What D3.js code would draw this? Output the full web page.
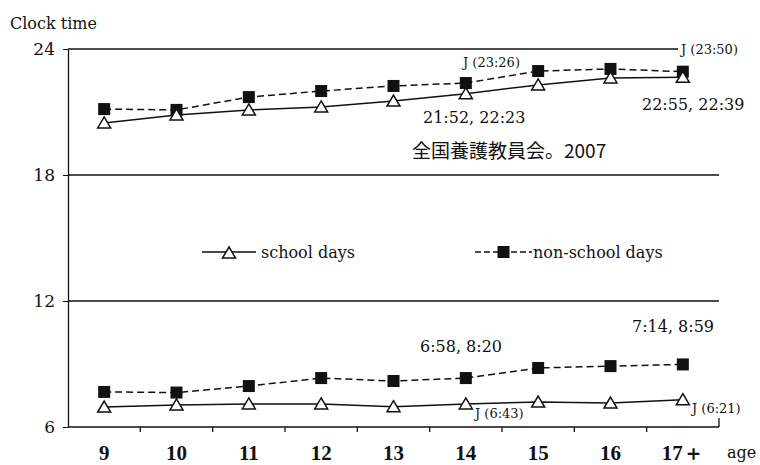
<!DOCTYPE html>
<html>
<head>
<meta charset="utf-8">
<script src="https://cdn.jsdelivr.net/npm/d3@7"></script>
<style>
  body { margin: 0; background: #fff; }
  text { font-family: "DejaVu Serif", "Liberation Serif", serif; fill: #111; }
  .cjk { font-family: "Noto Sans CJK JP", sans-serif; }
</style>
</head>
<body>
<div id="chart"></div>
<script>
// ages on the x axis
const ages = ['9', '10', '11', '12', '13', '14', '15', '16', '17＋'];
const yTicks = [6, 12, 18, 24];

// bedtime (hours, evening)
const bedSchool    = [20.48, 20.86, 21.1, 21.24, 21.52, 21.87, 22.29, 22.62, 22.65];
const bedNonSchool = [21.14, 21.1, 21.71, 22.0, 22.24, 22.38, 22.95, 23.05, 22.92];
// wake-up time (hours, morning)
const wakeSchool    = [6.95, 7.05, 7.1, 7.1, 6.97, 7.1, 7.19, 7.14, 7.3];
const wakeNonSchool = [7.67, 7.64, 7.95, 8.33, 8.19, 8.33, 8.81, 8.9, 8.98];

const width = 760, height = 465;
const margin = { top: 49, right: 41, bottom: 38, left: 68 };

const svg = d3.select('#chart')
  .append('svg')
  .attr('width', width)
  .attr('height', height);

const x = d3.scaleBand()
  .domain(ages)
  .range([margin.left, width - margin.right]);

const y = d3.scaleLinear()
  .domain([6, 24])
  .range([height - margin.bottom, margin.top]);

// horizontal grid lines (24 stops short for the J marker)
svg.selectAll('.grid')
  .data(yTicks.filter(d => d > 6))
  .join('line')
  .attr('class', 'grid')
  .attr('x1', margin.left)
  .attr('x2', d => d === 24 ? 678 : width - margin.right)
  .attr('y1', d => y(d))
  .attr('y2', d => y(d))
  .attr('stroke', '#111')
  .attr('stroke-width', 1.3);

// y axis
const yAxis = svg.append('g')
  .attr('transform', `translate(${margin.left},0)`)
  .call(d3.axisLeft(y).tickValues(yTicks).tickSize(5).tickSizeOuter(0));
yAxis.select('.domain').attr('stroke', '#111').attr('stroke-width', 1.3);
yAxis.selectAll('.tick line').attr('stroke', '#111');
yAxis.selectAll('.tick text')
  .attr('x', -13)
  .style('font-size', '17px')
  .style('font-family', '"DejaVu Serif", serif');

// x axis, ticks between categories
const xAxisG = svg.append('g')
  .attr('transform', `translate(0,${y(6)})`);
xAxisG.append('line')
  .attr('x1', margin.left).attr('x2', width - margin.right)
  .attr('stroke', '#111').attr('stroke-width', 1.6);
const bounds = ages.map(a => x(a)).concat([x(ages[ages.length - 1]) + x.bandwidth()]);
xAxisG.selectAll('.xt')
  .data(bounds.slice(1))
  .join('line')
  .attr('class', 'xt')
  .attr('x1', d => d).attr('x2', d => d)
  .attr('y1', (d, i) => i === bounds.length - 2 ? -9 : 0)
  .attr('y2', (d, i) => i === bounds.length - 2 ? 0 : 5)
  .attr('stroke', '#111').attr('stroke-width', 1.3);
xAxisG.selectAll('.xl')
  .data(ages)
  .join('text')
  .attr('class', 'xl')
  .attr('x', d => x(d) + x.bandwidth() / 2)
  .attr('y', 33)
  .attr('text-anchor', 'middle')
  .style('font-family', '"Liberation Serif", serif')
  .style('font-size', '21px')
  .style('font-weight', 'bold')
  .text(d => d);

svg.append('text')
  .attr('x', 727).attr('y', 458)
  .style('font-size', '16px')
  .text('age');

svg.append('text')
  .attr('x', 10).attr('y', 29)
  .style('font-size', '16px')
  .text('Clock time');

const cx = d => x(d) + x.bandwidth() / 2;
const triangle = 'M0,-6L6.5,5L-6.5,5Z';

function drawSeries(values, dashed, marker) {
  const pts = ages.map((a, i) => [cx(a), y(values[i])]);
  svg.append('path')
    .datum(pts)
    .attr('d', d3.line())
    .attr('fill', 'none')
    .attr('stroke', '#111')
    .attr('stroke-width', 1.5)
    .attr('stroke-dasharray', dashed ? '7,4' : null);
  drawMarkers(pts, marker);
}

function drawMarkers(pts, marker) {
  if (marker === 'square') {
    svg.selectAll(null)
      .data(pts)
      .join('rect')
      .attr('x', d => d[0] - 6).attr('y', d => d[1] - 6)
      .attr('width', 12).attr('height', 12)
      .attr('fill', '#111');
  } else {
    svg.selectAll(null)
      .data(pts)
      .join('path')
      .attr('transform', d => `translate(${d[0]},${d[1]})`)
      .attr('d', triangle)
      .attr('fill', '#fff')
      .attr('stroke', '#111')
      .attr('stroke-width', 1.5);
  }
}

drawSeries(bedNonSchool, true, 'square');
drawSeries(bedSchool, false, 'triangle');
drawSeries(wakeNonSchool, true, 'square');
drawSeries(wakeSchool, false, 'triangle');

// legend
const legend = [
  { label: 'school days', dashed: false, marker: 'triangle', x1: 202, x2: 256, tx: 261 },
  { label: 'non-school days', dashed: true, marker: 'square', x1: 475, x2: 532, tx: 533 }
];
legend.forEach(l => {
  svg.append('line')
    .attr('x1', l.x1).attr('x2', l.x2)
    .attr('y1', 252).attr('y2', 252)
    .attr('stroke', '#111').attr('stroke-width', 1.5)
    .attr('stroke-dasharray', l.dashed ? '6,3' : null);
  if (l.marker === 'square') {
    svg.append('rect')
      .attr('x', (l.x1 + l.x2) / 2 - 6).attr('y', 246)
      .attr('width', 12).attr('height', 12).attr('fill', '#111');
  } else {
    svg.append('path')
      .attr('transform', `translate(${(l.x1 + l.x2) / 2},253)`)
      .attr('d', triangle)
      .attr('fill', '#fff').attr('stroke', '#111').attr('stroke-width', 1.5);
  }
  svg.append('text')
    .attr('x', l.tx).attr('y', 258)
    .style('font-size', '16px')
    .text(l.label);
});

// annotations
const notes = [
  { t: '21:52, 22:23', x: 423, y: 123, s: 16 },
  { t: '22:55, 22:39', x: 642, y: 110, s: 16 },
  { t: '6:58, 8:20', x: 420, y: 352, s: 16 },
  { t: '7:14, 8:59', x: 632, y: 332, s: 16 },
  { t: 'J (23:26)', x: 463, y: 67, s: 13 },
  { t: 'J (23:50)', x: 681, y: 54, s: 13 },
  { t: 'J (6:43)', x: 475, y: 418, s: 13 },
  { t: 'J (6:21)', x: 692, y: 413, s: 13 }
];
svg.selectAll('.note')
  .data(notes)
  .join('text')
  .attr('class', 'note')
  .attr('x', d => d.x).attr('y', d => d.y)
  .style('font-size', d => d.s + 'px')
  .text(d => d.t);

svg.append('text')
  .attr('class', 'cjk')
  .attr('x', 412).attr('y', 158)
  .style('font-size', '19px')
  .text('全国養護教員会。2007');
</script>
</body>
</html>
